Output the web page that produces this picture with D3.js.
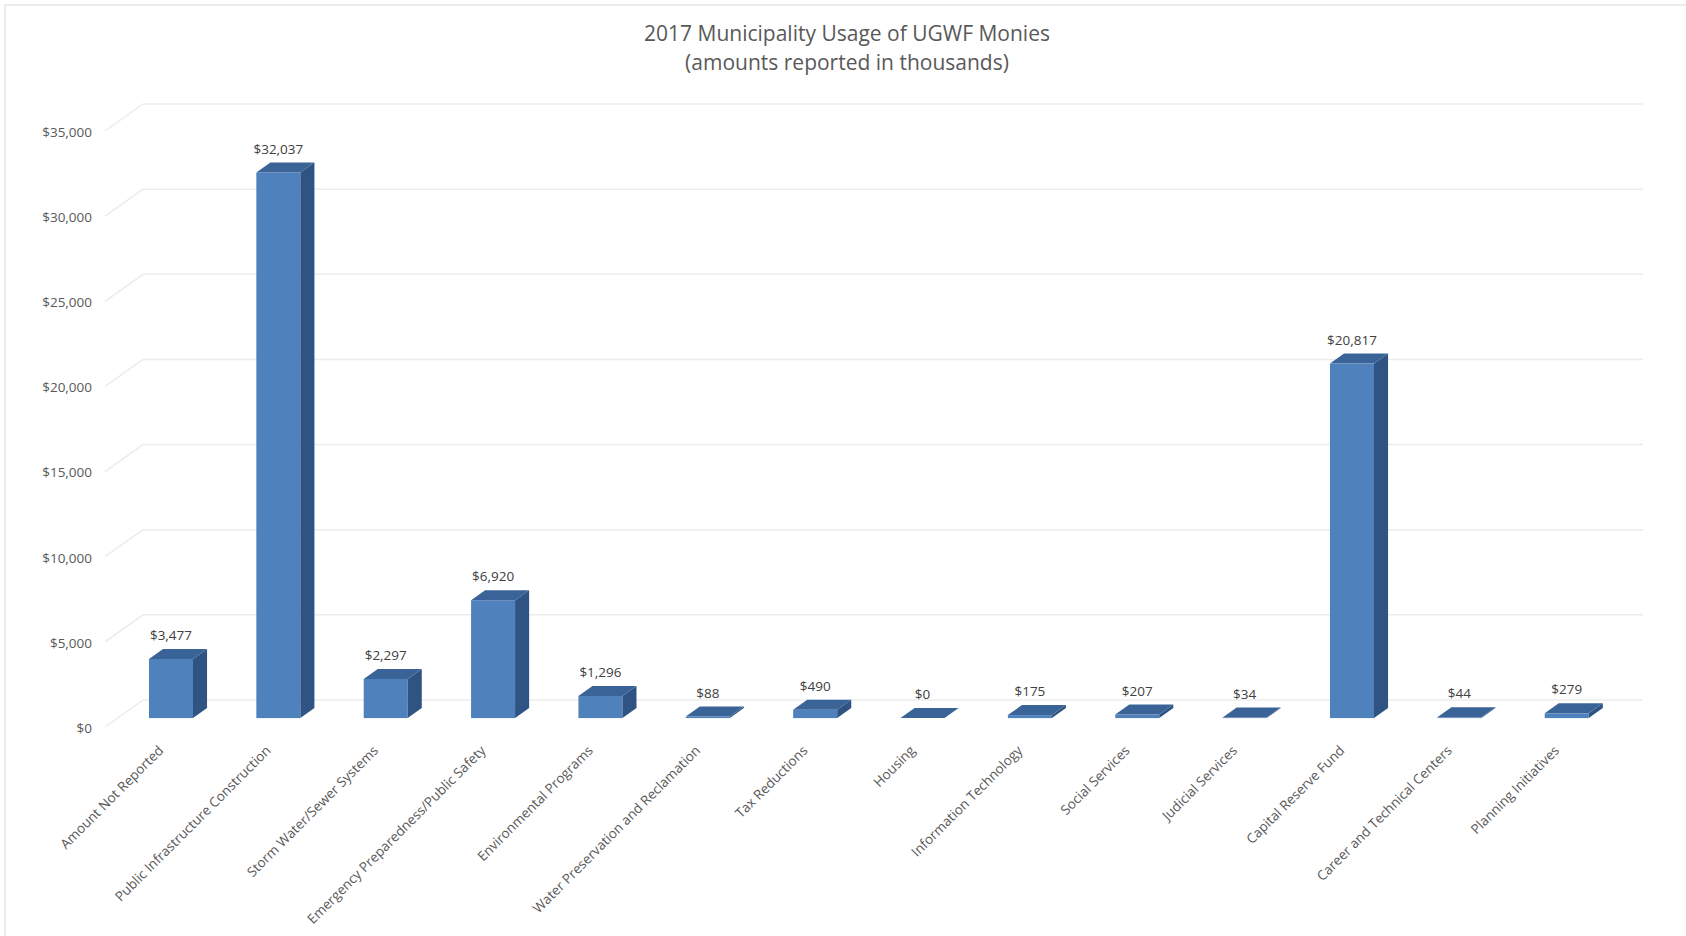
<!DOCTYPE html>
<html>
<head>
<meta charset="utf-8">
<script src="https://cdn.jsdelivr.net/npm/d3@7"></script>
<style>
  body { margin: 0; background: #fff; }
  svg { display: block; font-family: "Open Sans", sans-serif; }
  .tick text { fill: #595959; font-size: 13.5px; font-family: "Open Sans", sans-serif; }
</style>
</head>
<body>
<script>
/* 2017 UGWF monies, 3D column chart */

const categories = [
  "Amount Not Reported", "Public Infrastructure Construction", "Storm Water/Sewer Systems",
  "Emergency Preparedness/Public Safety", "Environmental Programs", "Water Preservation and Reclamation",
  "Tax Reductions", "Housing", "Information Technology", "Social Services", "Judicial Services",
  "Capital Reserve Fund", "Career and Technical Centers", "Planning Initiatives"
];
const values = [3477, 32037, 2297, 6920, 1296, 88, 490, 0, 175, 207, 34, 20817, 44, 279];
const yTicks = [0, 5000, 10000, 15000, 20000, 25000, 30000, 35000];
const titleLines = ["2017 Municipality Usage of UGWF Monies", "(amounts reported in thousands)"];

const w = 1686,
      h = 936;

/* oblique depth: floor front edge -> back wall */
const wallDx = 38,
      wallDy = -27,
      barFront = 0.33,
      barBack = 0.70;

const svg = d3.select("body").append("svg")
  .attr("width", w)
  .attr("height", h);

/* chart border */
svg.append("rect")
  .attr("x", 5).attr("y", 5)
  .attr("width", w).attr("height", h)
  .attr("fill", "none")
  .attr("stroke", "#d9d9d9");

/* scales (y on the front floor edge, x on the bar front faces) */
const y = d3.scaleLinear().domain([0, 35000]).range([727, 131]);

const x = d3.scaleBand()
  .domain(categories)
  .range([117.3, 1620.4])
  .paddingInner(0.59)
  .paddingOuter(0.295);

/* title */
svg.append("g").selectAll("text")
  .data(titleLines)
  .enter().append("text")
  .attr("x", 847)
  .attr("y", (d, i) => 41 + i * 29)
  .attr("text-anchor", "middle")
  .attr("fill", "#595959")
  .style("font-size", "21px")
  .text(d => d);

/* walls: back gridlines + left side diagonals */
const grid = svg.append("g").attr("stroke", "#ececec").attr("stroke-width", 1.5).attr("fill", "none");
grid.selectAll(".back")
  .data(yTicks)
  .enter().append("line")
  .attr("x1", 105 + wallDx).attr("x2", 1643)
  .attr("y1", d => y(d) + wallDy).attr("y2", d => y(d) + wallDy);
grid.selectAll(".side")
  .data(yTicks)
  .enter().append("line")
  .attr("x1", 105).attr("x2", 105 + wallDx)
  .attr("y1", d => y(d)).attr("y2", d => y(d) + wallDy);

/* y axis */
svg.append("g")
  .attr("transform", "translate(92,1)")
  .call(d3.axisLeft(y).tickValues(yTicks).tickSize(0).tickPadding(0).tickFormat(d3.format("$,")))
  .call(g => g.select(".domain").remove());

/* bars */
const dDx = wallDx * (barBack - barFront),
      dDy = wallDy * (barBack - barFront),
      off = wallDy * barFront;

const bars = svg.append("g").selectAll("g")
  .data(values.map((v, i) => ({ cat: categories[i], v: v })))
  .enter().append("g");

bars.append("rect")
  .attr("x", d => x(d.cat))
  .attr("y", d => y(d.v) + off)
  .attr("width", x.bandwidth())
  .attr("height", d => y(0) - y(d.v))
  .attr("fill", "#4f81bd");

bars.append("path")
  .attr("fill", "#2f5382")
  .attr("d", d => {
    const x1 = x(d.cat) + x.bandwidth(), yt = y(d.v) + off, yb = y(0) + off;
    return `M${x1},${yt}L${x1 + dDx},${yt + dDy}L${x1 + dDx},${yb + dDy}L${x1},${yb}Z`;
  });

bars.append("path")
  .attr("fill", "#3a6497")
  .attr("d", d => {
    const x0 = x(d.cat), x1 = x0 + x.bandwidth(), yt = y(d.v) + off;
    return `M${x0},${yt}L${x1},${yt}L${x1 + dDx},${yt + dDy}L${x0 + dDx},${yt + dDy}Z`;
  });

/* value labels */
bars.append("text")
  .attr("x", d => x(d.cat) + x.bandwidth() / 2)
  .attr("y", d => y(d.v) + off + dDy - 9)
  .attr("text-anchor", "middle")
  .attr("fill", "#404040")
  .style("font-size", "13.5px")
  .text(d => d3.format("$,")(d.v));

/* category axis */
svg.append("g")
  .attr("transform", "translate(-10,748)")
  .call(d3.axisBottom(x).tickSize(0).tickPadding(0))
  .call(g => g.select(".domain").remove())
  .selectAll("text")
  .attr("y", 0)
  .attr("dy", "0.35em")
  .attr("text-anchor", "end")
  .attr("transform", "rotate(-45)");
</script>
</body>
</html>
